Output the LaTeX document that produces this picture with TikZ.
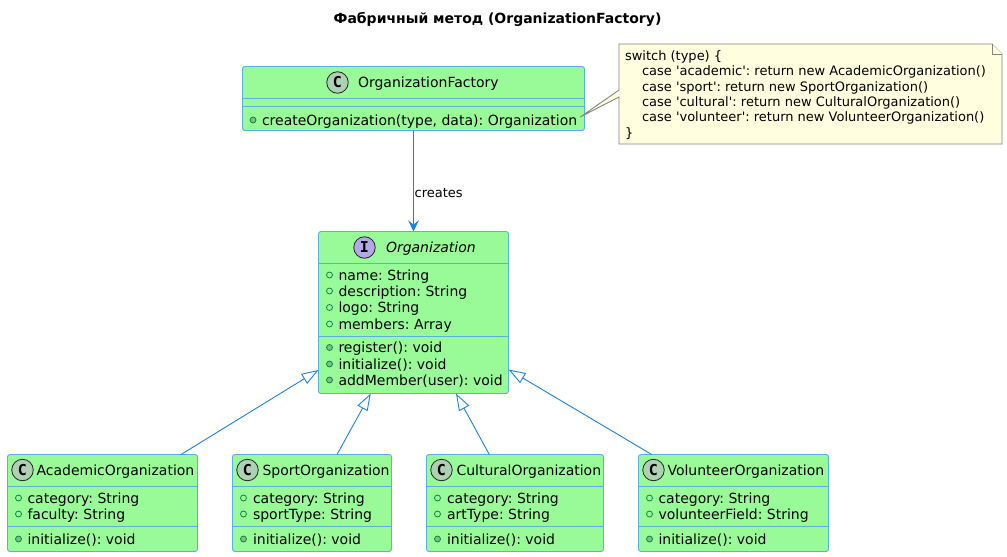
\documentclass[tikz,border=0pt]{standalone}
\usepackage{fontspec}
\setmainfont{DejaVu Sans}
\newfontfamily\spotfont{DejaVu Sans Mono}
\usetikzlibrary{arrows.meta,calc}
\frenchspacing
\definecolor{boxfill}{HTML}{98FB98}
\definecolor{boxline}{HTML}{57B1E5}
\definecolor{arrowblue}{HTML}{1E82DC}
\definecolor{notefill}{HTML}{FFFFE0}
\definecolor{noteline}{HTML}{858580}
\definecolor{spotC}{HTML}{ADD1B2}
\definecolor{spotI}{HTML}{B4A7E5}
\definecolor{vis}{HTML}{038048}
\definecolor{visfill}{HTML}{84BE84}
\newcounter{txt}
\tikzset{
  x=1pt,y=-1pt,
  classbox/.style={draw=boxline,fill=boxfill,line width=0.9pt,rounded corners=2.5pt,anchor=north west,inner sep=0pt,outer sep=0pt},
  divider/.style={draw=boxline,line width=0.9pt},
  txt/.style={anchor=base west,inner sep=0pt,outer sep=0pt,font=\fontsize{14}{16}\selectfont,text=black},
  notetxt/.style={anchor=base west,inner sep=0pt,outer sep=0pt,font=\fontsize{13}{15}\selectfont,text=black},
  spot/.style={circle,draw=black!85,line width=0.8pt,minimum size=21.5pt,inner sep=0pt,font=\spotfont\bfseries\fontsize{15}{15}\selectfont},
  attr/.style={circle,draw=vis,line width=0.75pt,minimum size=6pt,inner sep=0pt},
  meth/.style={attr,fill=visfill},
  link/.style={draw=arrowblue,line width=0.9pt},
  inherit/.style={link,-{Triangle[open,length=17pt,width=11.5pt,line width=0.9pt]}},
  creates/.style={link,-{Stealth[length=11pt,width=10.5pt,inset=4pt]}},
}
\newcommand{\mline}[5]{% style, dot x, text x, baseline, text
  \stepcounter{txt}%
  \node[#1] (d\arabic{txt}) at (#2,#4-5) {};
  \node[txt] (t\arabic{txt}) at (#3,#4) {#5};
}
\newcommand{\ntext}[3]{%
  \stepcounter{txt}%
  \node[notetxt] (t\arabic{txt}) at (#1,#2) {#3};
}
\begin{document}
\begin{tikzpicture}
\frenchspacing
\useasboundingbox (0,0) rectangle (1007,557);
\fill[white] (0,0) rectangle (1007,557);

\node[anchor=base,inner sep=0pt,font=\bfseries\fontsize{14}{16}\selectfont] (title) at (497.5,23) {Фабричный метод (OrganizationFactory)};

% boxes
\node[classbox,minimum width=342pt,minimum height=64pt] (factory) at (242.5,66.5) {};
\node[classbox,minimum width=190pt,minimum height=162pt] (org) at (318.5,231.5) {};
\node[classbox,minimum width=190pt,minimum height=97pt] (acad) at (7.5,454.5) {};
\node[classbox,minimum width=159pt,minimum height=97pt] (sport) at (232.5,454.5) {};
\node[classbox,minimum width=177pt,minimum height=97pt] (cult) at (426.5,454.5) {};
\node[classbox,minimum width=190pt,minimum height=97pt] (vol) at (638.5,454.5) {};

% dividers
\draw[divider] (factory.west |- 0,98.5) -- (factory.east |- 0,98.5);
\draw[divider] (factory.west |- 0,106.5) -- (factory.east |- 0,106.5);
\draw[divider] (org.west |- 0,263.5) -- (org.east |- 0,263.5);
\draw[divider] (org.west |- 0,336.5) -- (org.east |- 0,336.5);
\foreach \b in {acad,sport,cult,vol}{
  \draw[divider] (\b.west |- 0,486.5) -- (\b.east |- 0,486.5);
  \draw[divider] (\b.west |- 0,526.5) -- (\b.east |- 0,526.5);
}

% headers
\node[spot,fill=spotC] (sf) at (337.5,82.5) {C};
\node[txt] (hf) at (358,87.5) {OrganizationFactory};
\node[spot,fill=spotI] (so) at (364.5,247.5) {I};
\node[txt,font=\itshape\fontsize{14}{16}\selectfont] (ho) at (386,252.5) {Organization};
\node[spot,fill=spotC] (sa) at (22.5,470) {C};
\node[txt] (ha) at (36.5,475) {AcademicOrganization};
\node[spot,fill=spotC] (ss) at (247.5,470) {C};
\node[txt] (hs) at (262.5,475) {SportOrganization};
\node[spot,fill=spotC] (sc) at (441.5,470) {C};
\node[txt] (hc) at (456.5,475) {CulturalOrganization};
\node[spot,fill=spotC] (sv) at (653.5,470) {C};
\node[txt] (hv) at (667.5,475) {VolunteerOrganization};

% members
\mline{meth}{253}{262}{125}{createOrganization(type, data): Organization}
\mline{attr}{329.5}{338.5}{280}{name: String}
\mline{attr}{329.5}{338.5}{296}{description: String}
\mline{attr}{329.5}{338.5}{312.5}{logo: String}
\mline{attr}{329.5}{338.5}{329}{members: Array}
\mline{meth}{329.5}{338.5}{352.5}{register(): void}
\mline{meth}{329.5}{338.5}{369}{initialize(): void}
\mline{meth}{329.5}{338.5}{385}{addMember(user): void}
\mline{attr}{18.5}{27.5}{503}{category: String}
\mline{attr}{18.5}{27.5}{519}{faculty: String}
\mline{meth}{18.5}{27.5}{544}{initialize(): void}
\mline{attr}{243.5}{253}{503}{category: String}
\mline{attr}{243.5}{253}{519}{sportType: String}
\mline{meth}{243.5}{253}{544}{initialize(): void}
\mline{attr}{437.5}{447}{503}{category: String}
\mline{attr}{437.5}{447}{519}{artType: String}
\mline{meth}{437.5}{447}{544}{initialize(): void}
\mline{attr}{649.5}{658.5}{503}{category: String}
\mline{attr}{649.5}{658.5}{519}{volunteerField: String}
\mline{meth}{649.5}{658.5}{544}{initialize(): void}

% note
\coordinate (nw) at (619,44);
\node[anchor=north west,inner sep=0pt,outer sep=0pt,minimum width=383pt,minimum height=100pt] (note) at (nw) {};
\coordinate (notetip) at ([xshift=3pt,yshift=8pt]t1.base east);
\draw[draw=noteline,fill=notefill,line width=0.9pt,line join=miter]
  (note.north west) -- ([xshift=-10pt]note.north east) -- ([yshift=-10pt]note.north east)
  -- (note.south east) -- (note.south west) -- ([yshift=-3pt]note.west) -- (notetip) -- ([yshift=4pt]note.west) -- cycle;
\draw[draw=noteline,line width=0.9pt,fill=notefill] ([xshift=-10pt]note.north east) -- ([xshift=-10pt,yshift=-10pt]note.north east) -- ([yshift=-10pt]note.north east);
\ntext{625}{60}{switch (type) \{}
\ntext{642}{75.5}{case \textquotesingle academic\textquotesingle: return new AcademicOrganization()}
\ntext{642}{91}{case \textquotesingle sport\textquotesingle: return new SportOrganization()}
\ntext{642}{106}{case \textquotesingle cultural\textquotesingle: return new CulturalOrganization()}
\ntext{642}{121}{case \textquotesingle volunteer\textquotesingle: return new VolunteerOrganization()}
\ntext{625}{137}{\}}

% connectors
\draw[creates] (factory.south -| org.north) -- (org.north);
\node[notetxt] (lbl) at (414.7,197) {creates};
\draw[inherit] ([xshift=173.5pt]acad.north west) -- (org.west |- 0,370);
\draw[inherit] ([xshift=104.5pt]sport.north west) -- ([xshift=52.2pt]org.south west);
\draw[inherit] ([xshift=62.8pt]cult.north west) -- ([xshift=137.5pt]org.south west);
\draw[inherit] ([xshift=13.2pt]vol.north west) -- (org.east |- 0,369.5);
\end{tikzpicture}
\end{document}
